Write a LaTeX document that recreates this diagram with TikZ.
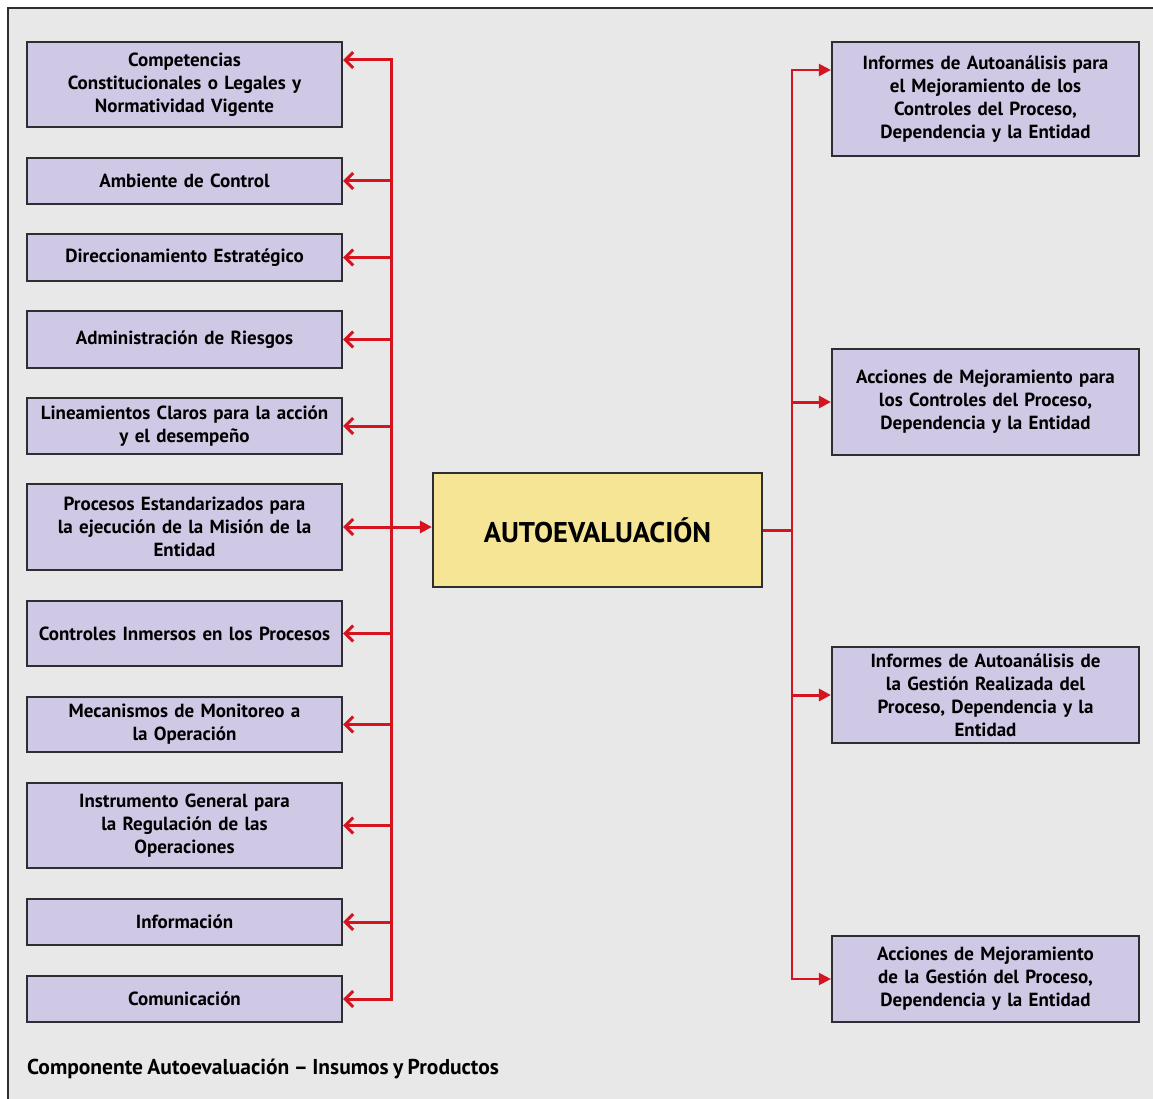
\documentclass[tikz,border=0pt]{standalone}
\usepackage{fontspec}
\setmainfont{PT Sans}[WordSpace=0.8]
\usetikzlibrary{arrows.meta,calc}
\definecolor{bg}{RGB}{232,232,232}
\definecolor{lav}{RGB}{208,201,230}
\definecolor{yel}{RGB}{246,229,148}
\definecolor{rd}{RGB}{214,20,32}
\definecolor{bd}{RGB}{45,45,50}
\begin{document}
\begin{tikzpicture}[x=1pt,y=-1pt,
  box/.style={draw=bd, line width=2.2pt, fill=lav, align=center,
    font=\bfseries\fontsize{19}{23}\selectfont, inner sep=0pt},
  lbox/.style={box, minimum width=315, text width=312},
  rbox/.style={box, minimum width=307, text width=304},
  link/.style={draw=rd, line width=3pt},
  barb/.tip={Straight Barb[length=8pt,width=16pt,line width=3pt]},
  tri/.tip={Triangle[length=12pt,width=12pt]},
  inarrow/.style={link, -barb},
  outarrow/.style={link, -tri}]
\useasboundingbox (0,0) rectangle (1153,1099);
\fill[white] (0,0) rectangle (1153,1099);
\fill[bg] (8,8) rectangle (1160,1110);
\draw[bd, line width=2pt] (8,1110) -- (8,8) -- (1160,8);

% left boxes
\node[lbox, minimum height=85] (l1) at (184.5,84.5) {Competencias\\Constitucionales o Legales y\\Normatividad Vigente};
\node[lbox, minimum height=46] (l2) at (184.5,181) {Ambiente de Control};
\node[lbox, minimum height=47] (l3) at (184.5,257.5) {Direccionamiento Estratégico};
\node[lbox, minimum height=57] (l4) at (184.5,339.5) {Administración de Riesgos};
\node[lbox, minimum height=56] (l5) at (184.5,426) {Lineamientos Claros para la acción\\y el desempeño};
\node[lbox, minimum height=86] (l6) at (184.5,527) {Procesos Estandarizados para\\la ejecución de la Misión de la\\Entidad};
\node[lbox, minimum height=65] (l7) at (184.5,633.5) {Controles Inmersos en los Procesos};
\node[lbox, minimum height=55] (l8) at (184.5,724.5) {Mecanismos de Monitoreo a\\la Operación};
\node[lbox, minimum height=85] (l9) at (184.5,825.5) {Instrumento General para\\la Regulación de las\\Operaciones};
\node[lbox, minimum height=46] (l10) at (184.5,922) {Información};
\node[lbox, minimum height=46] (l11) at (184.5,999) {Comunicación};

% center
\node[box, fill=yel, minimum width=329, minimum height=114,
  font=\bfseries\fontsize{28.5}{30}\selectfont] (c) at (597.5,530) {AUTOEVALUACIÓN};

% right boxes
\node[rbox, minimum height=114] (r1) at (985.5,99) {Informes de Autoanálisis para\\el Mejoramiento de los\\Controles del Proceso,\\Dependencia y la Entidad};
\node[rbox, minimum height=106] (r2) at (985.5,402) {Acciones de Mejoramiento para\\los Controles del Proceso,\\Dependencia y la Entidad};
\node[rbox, minimum height=96] (r3) at (985.5,695) {Informes de Autoanálisis de\\la Gestión Realizada del\\Proceso, Dependencia y la\\Entidad};
\node[rbox, minimum height=86] (r4) at (985.5,979) {Acciones de Mejoramiento\\de la Gestión del Proceso,\\Dependencia y la Entidad};

% caption
\node[anchor=west, font=\bfseries\fontsize{21.5}{24}\selectfont, inner sep=0pt] (cap) at (27,1069)
  {Componente Autoevaluación – Insumos y Productos};

% connectors
\coordinate (bus) at (391,0);
\coordinate (rbus) at (792,0);
\coordinate (a1) at ($(l1.east)+(0,-24.5)$);
\coordinate (b1) at ($(r1.west)+(0,-29)$);

\draw[link, barb-barb] (a1) -- (a1 -| bus) -- (l11.east -| bus) -- (l11.east);
\foreach \n in {l2,l3,l4,l5,l7,l8,l9,l10}
  \draw[inarrow] (\n.east -| bus) -- (\n.east);
\draw[link, barb-tri] (l6.east) -- (l6.east -| c.west);

\draw[link, line width=2.2pt, tri-tri] (b1) -- (b1 -| rbus) -- (r4.west -| rbus) -- (r4.west);
\draw[link] (c.east) -- (c.east -| rbus);
\foreach \n in {r2,r3}
  \draw[outarrow] (\n.west -| rbus) -- (\n.west);
\end{tikzpicture}
\end{document}
